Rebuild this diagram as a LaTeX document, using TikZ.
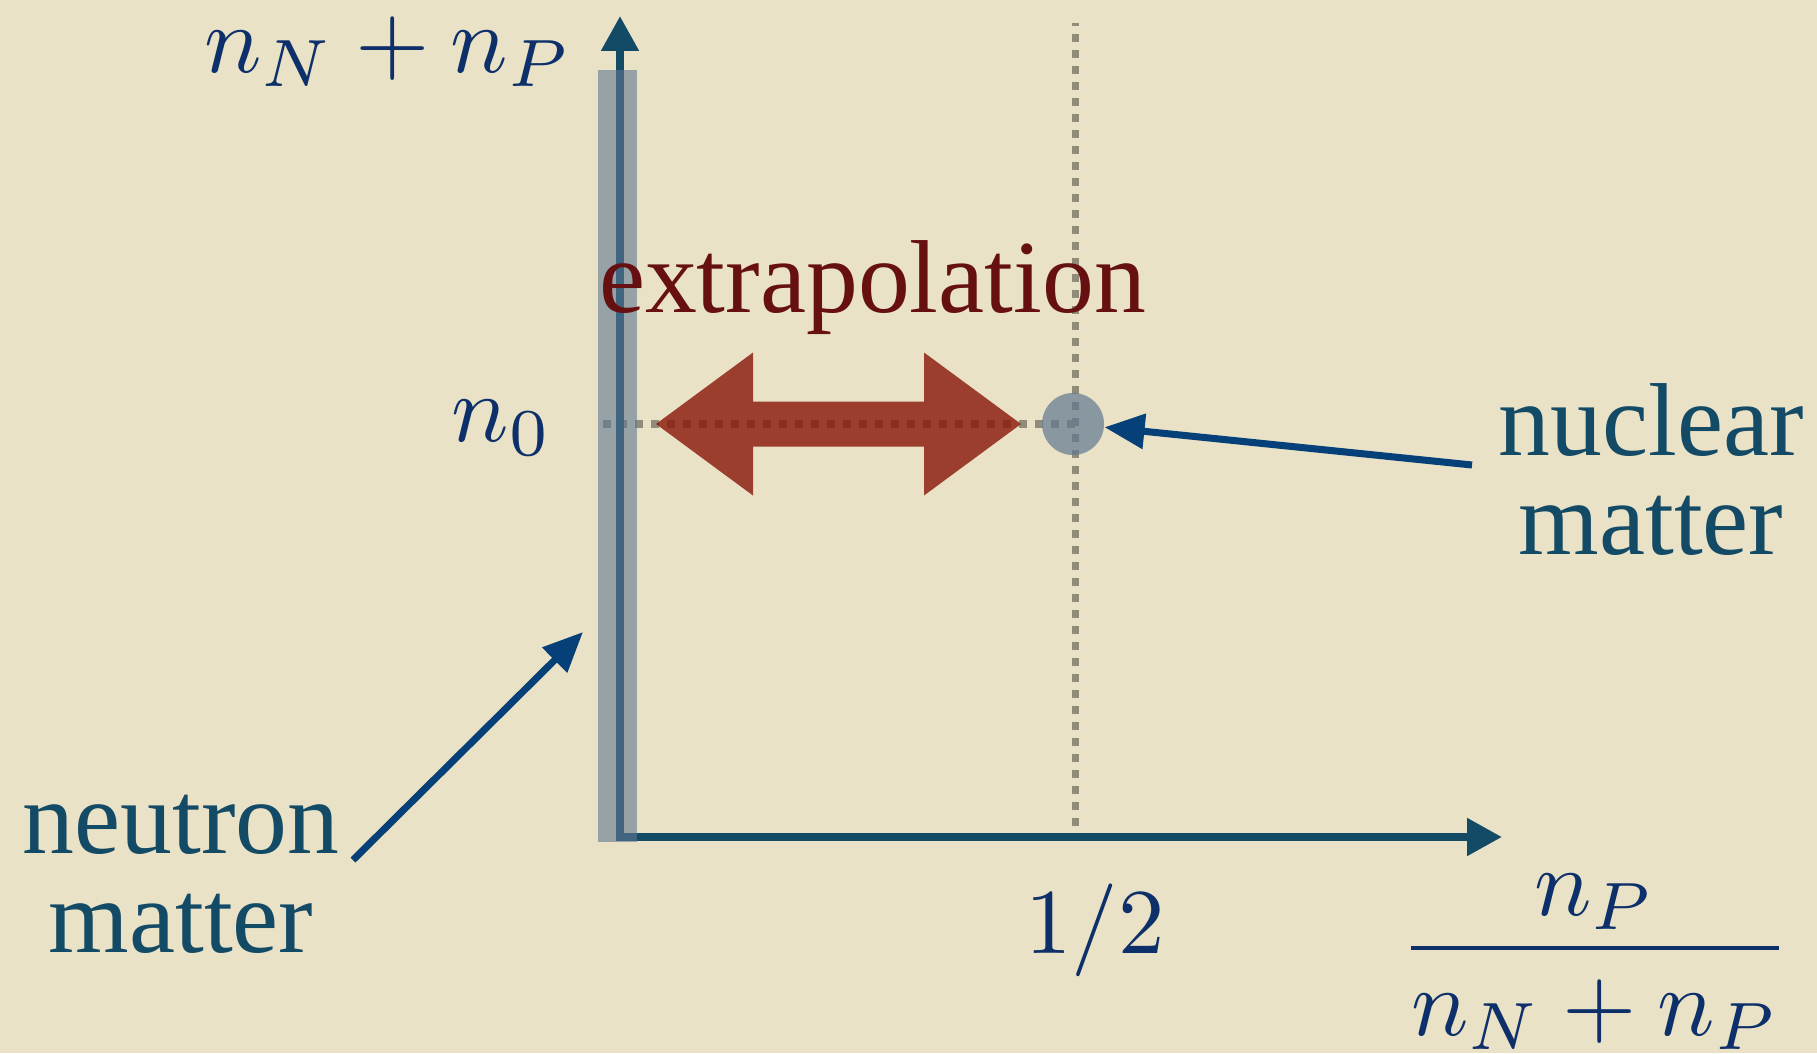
\documentclass[tikz,border=0pt]{standalone}
\usepackage[no-math]{fontspec}
\newfontfamily\labelfont{Liberation Serif}
\usepackage{tikz}
\usepackage{xcolor}
\usetikzlibrary{arrows.meta, positioning}
\definecolor{bgBeige}{HTML}{E9E2C6}
\definecolor{axisBlue}{HTML}{134A66}
\definecolor{mathBlue}{HTML}{0D306A}
\definecolor{pointerBlue}{HTML}{064078}
\definecolor{bandGray}{HTML}{607891}
\definecolor{guideGray}{HTML}{8F8C7A}
\definecolor{extraRed}{HTML}{8B1A0C}
\definecolor{extraText}{HTML}{661012}
\tikzset{
    axisLine/.style={line width=2.3pt, axisBlue, line join=miter},
    guideLine/.style={line width=2pt, guideGray, dash pattern=on 0.08cm off 0.08cm},
    pointerArrow/.style={->, line width=2pt, pointerBlue},
    matterLabel/.style={font=\labelfont\fontsize{29.5}{28}\selectfont, text=axisBlue, align=center, inner sep=0pt},
    mathLabel/.style={text=mathBlue, inner sep=0pt, scale=2.72}
}

\begin{document}
\begin{tikzpicture}[>={Triangle[length=4mm, width=3.4mm]}]
    % --- canvas ---
    \fill[bgBeige] (-6.20,-2.16) rectangle (11.97,8.37);
    \useasboundingbox (-6.20,-2.16) rectangle (11.97,8.37);
    % --- guides ---
    \coordinate (O) at (0,0);
    \coordinate (yEnd) at (0,8.21);
    \coordinate (xEnd) at (8.82,0);
    \coordinate (halfTop) at (4.55,8.14);
    \coordinate (halfBot) at (4.55,0.11);
    \coordinate (satLeft) at (-0.17,4.13);
    \coordinate (satPt) at (4.55,4.13);
    \draw[guideLine] (halfBot) -- (halfTop);
    \draw[guideLine] (satLeft) -- (satPt);
    % --- axes ---
    \draw[axisLine, {Triangle[length=3.5mm,width=3.6mm]}-{Triangle[length=3.5mm,width=3.6mm]}] (yEnd) -- (O) -- (xEnd);
    \fill[bandGray, opacity=0.6] (-0.22,-0.05) rectangle (0.17,7.67);
    % --- extrapolation arrow ---
    \fill[extraRed, opacity=0.82] (0.36,4.13) -- (1.33,4.845) -- (1.33,4.355) -- (3.04,4.355)
        -- (3.04,4.845) -- (4.01,4.13) -- (3.04,3.415) -- (3.04,3.905) -- (1.33,3.905)
        -- (1.33,3.415) -- cycle;
    \node[circle, fill=bandGray, fill opacity=0.7, minimum size=6.2mm, inner sep=0pt] (nucPt) at (4.53,4.13) {};
    % --- labels ---
    \node[font=\labelfont\fontsize{29.5}{30}\selectfont, text=extraText, anchor=base, inner sep=0pt] (extraLab) at (2.525,5.25) {extrapolation};
    \node[mathLabel, anchor=base] (yLab) at (-2.32,7.65) {$n_N+n_P$};
    \node[mathLabel, anchor=base] (nZero) at (-1.18,3.96) {$n_0$};
    \node[mathLabel, anchor=base, scale=0.97] (half) at (4.75,-1.16) {$1/2$};
    \node[mathLabel, anchor=base] (fracNum) at (9.75,-0.78) {$n_P$};
    \node[mathLabel, anchor=base] (fracDen) at (9.75,-1.98) {$n_N+n_P$};
    \coordinate (barL) at (7.91,-1.11);
    \coordinate (barR) at (11.59,-1.11);
    \draw[mathBlue, line width=1.2pt] (barL) -- (barR);
    \node[matterLabel, anchor=base] (nucLab) at (10.31,2.83) {nuclear\\matter};
    \node[matterLabel, anchor=base] (neuLab) at (-4.39,-1.15) {neutron\\matter};
    % --- pointers ---
    \coordinate (nucTail) at (8.52,3.72);
    \coordinate (neuTail) at (-2.67,-0.23);
    \coordinate (neuTip) at (-0.37,2.05);
    \draw[pointerArrow] (nucTail) -- (nucPt);
    \draw[pointerArrow] (neuTail) -- (neuTip);
\end{tikzpicture}
\end{document}
